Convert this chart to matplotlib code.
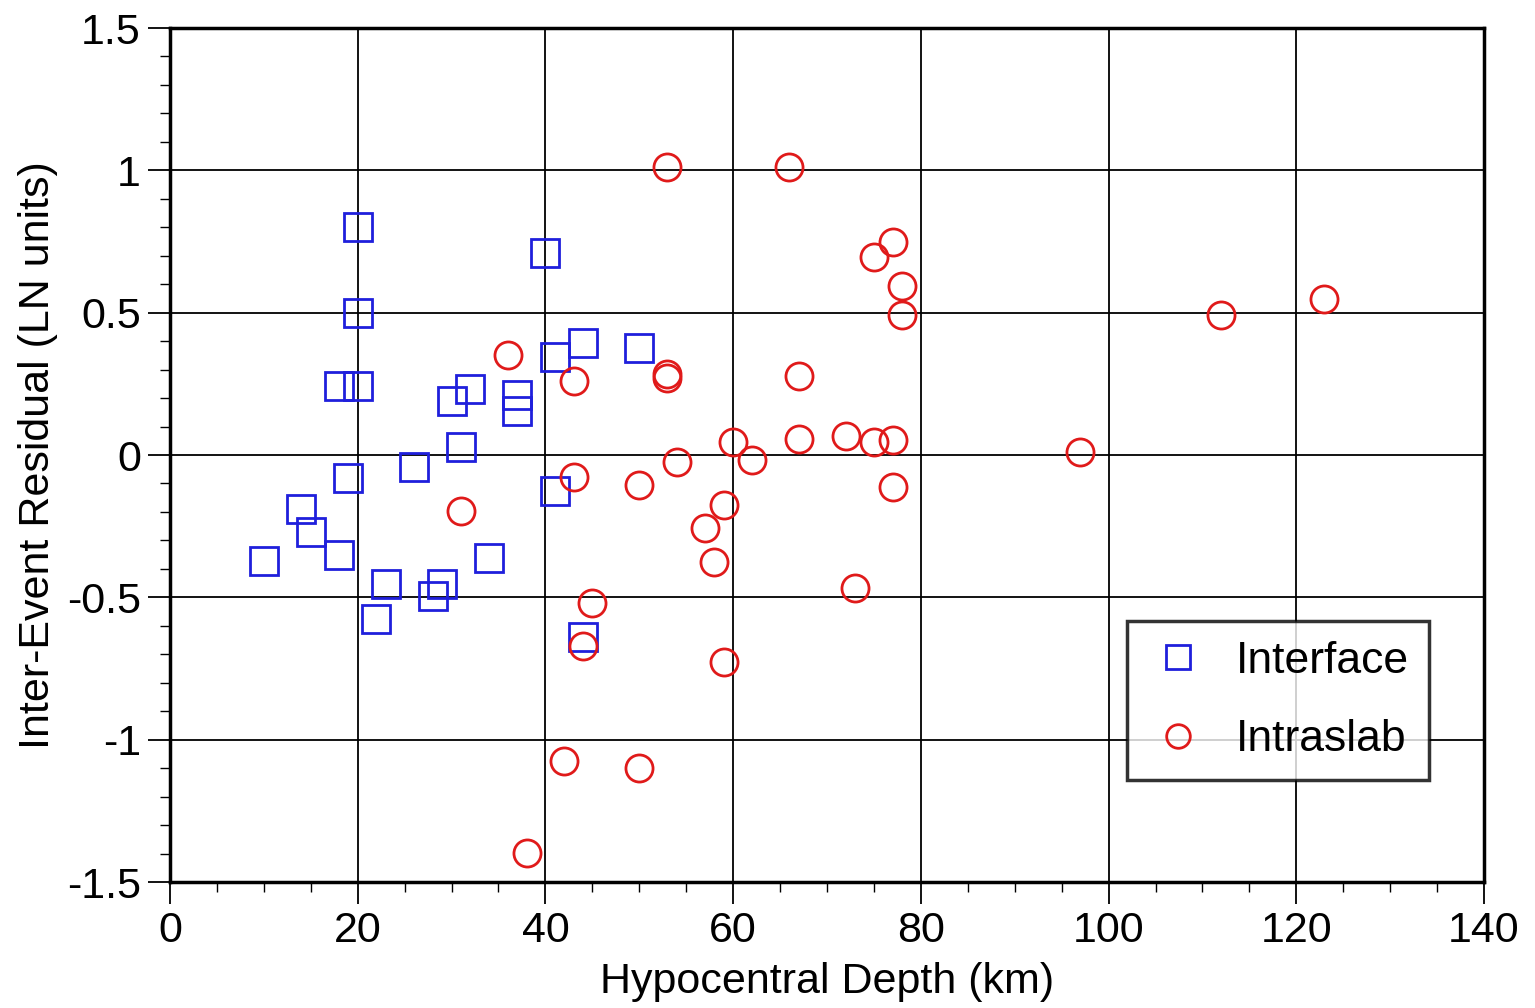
import numpy as np
from matplotlib import pyplot as plt
from matplotlib.ticker import MultipleLocator

# Interface events (hypocentral depth km, inter-event residual)
interface_depth = [20, 40, 20, 18, 20, 30, 32, 37, 37, 31, 26, 19, 41, 14, 15,
                   18, 10, 34, 23, 29, 28, 22, 44, 41, 44, 50]
interface_resid = [0.80, 0.71, 0.50, 0.243, 0.243, 0.19, 0.233, 0.211, 0.153,
                   0.029, -0.042, -0.082, -0.125, -0.19, -0.27, -0.353, -0.371,
                   -0.362, -0.452, -0.452, -0.494, -0.576, -0.64, 0.343, 0.394,
                   0.376]

# Intraslab events
intraslab_depth = [53, 66, 77, 75, 78, 78, 112, 123, 36, 43, 53, 53, 67, 60, 67,
                   72, 75, 77, 97, 62, 54, 43, 50, 77, 31, 59, 57, 58, 73, 45,
                   44, 59, 42, 50, 38]
intraslab_resid = [1.012, 1.012, 0.75, 0.695, 0.592, 0.492, 0.492, 0.547, 0.352,
                   0.259, 0.284, 0.272, 0.279, 0.046, 0.055, 0.068, 0.045, 0.052,
                   0.012, -0.019, -0.026, -0.076, -0.106, -0.111, -0.197, -0.175,
                   -0.257, -0.375, -0.467, -0.521, -0.67, -0.726, -1.075, -1.10,
                   -1.397]

xticks = [0, 20, 40, 60, 80, 100, 120, 140]
yticks = [1.5, 1, 0.5, 0, -0.5, -1, -1.5]
ytick_labels = ['1.5', '1', '0.5', '0', '-0.5', '-1', '-1.5']

if __name__ == "__main__":
    plt.rcParams['font.family'] = ['Liberation Sans', 'DejaVu Sans']

    fig = plt.figure(figsize=(15.35, 10.08), dpi=100)
    ax = fig.add_axes([0.1107, 0.125, 0.8561, 0.8472])

    ax.plot(interface_depth, interface_resid, linestyle='none', marker='s',
            markersize=19.5, markerfacecolor='none', markeredgecolor='#1f1fdc',
            markeredgewidth=2.0, label='Interface', zorder=3)
    ax.plot(intraslab_depth, intraslab_resid, linestyle='none', marker='o',
            markersize=19.5, markerfacecolor='none', markeredgecolor='#e01a1a',
            markeredgewidth=2.0, label='Intraslab', zorder=3)

    ax.set_xlim(0, 140)
    ax.set_ylim(-1.5, 1.5)
    ax.set_xticks(xticks)
    ax.set_yticks(yticks)
    ax.set_yticklabels(ytick_labels)
    ax.xaxis.set_minor_locator(MultipleLocator(5))
    ax.yaxis.set_minor_locator(MultipleLocator(0.1))

    ax.grid(True, which='major', color='black', linewidth=1.3)
    ax.set_axisbelow(True)
    for s in ax.spines.values():
        s.set_linewidth(2.5)

    ax.tick_params(which='major', direction='out', length=16, width=1.3,
                   labelsize=31, pad=5)
    ax.tick_params(which='minor', direction='out', length=7, width=1.0)
    ax.tick_params(top=False, right=False, which='both')

    ax.set_xlabel('Hypocentral Depth (km)', fontsize=31, labelpad=8)
    ax.set_ylabel('Inter-Event Residual (LN units)', fontsize=31, labelpad=6)

    leg = ax.legend(loc='upper left', bbox_to_anchor=(0.728, 0.306),
                    fontsize=32, frameon=True, fancybox=False, edgecolor='black',
                    borderpad=0.45, labelspacing=0.85, handletextpad=0.6,
                    handlelength=1.4, borderaxespad=0)
    leg.get_frame().set_linewidth(2.5)
    for h in leg.legend_handles:
        h.set_markersize(17)

    fig.savefig('out.png', dpi=100)
